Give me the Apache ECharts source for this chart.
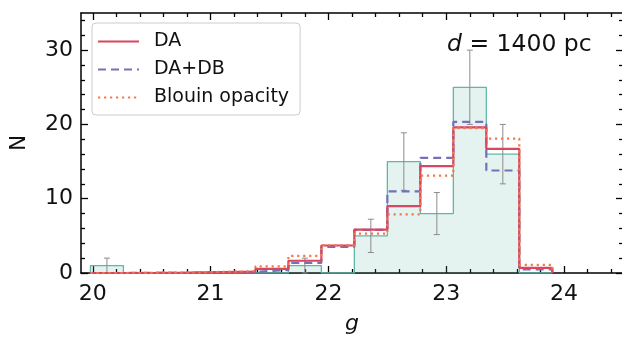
<!DOCTYPE html>
<html>
<head>
<meta charset="utf-8">
<script src="https://cdn.jsdelivr.net/npm/echarts@6/dist/echarts.min.js"></script>
<style>
html,body{margin:0;padding:0;background:#fff;}
#c{width:622px;height:338px;}
</style>
</head>
<body>
<div id="c"></div>
<script>
// Histogram bin edges (g magnitude)
var binEdges = [19.98, 20.26, 20.54, 20.82, 21.10, 21.38, 21.66, 21.94, 22.22, 22.50, 22.78, 23.06, 23.34, 23.62, 23.90];
// Observed counts per bin
var observed = [1, 0, 0, 0, 0, 0, 1, 0, 5, 15, 8, 25, 16, 0];
// Observed Poisson errors per bin
var observedErr = [1, 0, 0, 0, 0, 0, 1, 0, 2.24, 3.87, 2.83, 5, 4, 0];
// Model histograms
var modelDA = [0, 0.02, 0.05, 0.12, 0.2, 0.55, 1.65, 3.7, 5.85, 9.0, 14.4, 19.6, 16.7, 0.7];
var modelDADB = [0, 0.02, 0.04, 0.1, 0.15, 0.4, 1.35, 3.5, 5.8, 11.0, 15.5, 20.35, 13.8, 0.5];
var modelBlouin = [0, 0.03, 0.07, 0.15, 0.25, 0.9, 2.3, 3.75, 5.3, 7.9, 13.1, 19.5, 18.1, 1.1];
// Axis ticks
var xMajorTicks = [20, 21, 22, 23, 24];
var xMinorTicks = [20.2, 20.4, 20.6, 20.8, 21.2, 21.4, 21.6, 21.8, 22.2, 22.4, 22.6, 22.8, 23.2, 23.4, 23.6, 23.8, 24.2, 24.4];
var yMajorTicks = [0, 10, 20, 30];
var yMinorTicks = [2, 4, 6, 8, 12, 14, 16, 18, 22, 24, 26, 28, 32, 34];
var seriesNames = ['DA', 'DA+DB', 'Blouin opacity'];

function stepData(edges, vals) {
  var pts = [[edges[0], 0]];
  for (var i = 0; i < vals.length; i++) pts.push([edges[i], vals[i]]);
  pts.push([edges[vals.length], vals[vals.length - 1]]);
  pts.push([edges[vals.length], 0]);
  return pts;
}
var errData = [];
for (var i = 0; i < observed.length; i++) {
  if (observed[i] > 0) {
    var c = (binEdges[i] + binEdges[i + 1]) / 2;
    errData.push([c, observed[i] - observedErr[i], observed[i] + observedErr[i]]);
  }
}

var FONT = 'DejaVu Sans';
var X0 = 19.9, X1 = 24.5, Y0 = 0, Y1 = 35;
function xAx(pos, ticks, len, showLine, labels) {
  return {
    type: 'value', min: X0, max: X1, position: pos,
    axisLine: {show: showLine, onZero: false, lineStyle: {color: '#000', width: 1.5}},
    axisTick: {show: true, inside: true, length: len, customValues: ticks, lineStyle: {color: '#000', width: 1.3}},
    axisLabel: labels ? {show: true, customValues: ticks, fontFamily: FONT, fontSize: 22, color: '#111', margin: 10} : {show: false},
    splitLine: {show: false}
  };
}
function yAx(pos, ticks, len, showLine, labels) {
  return {
    type: 'value', min: Y0, max: Y1, position: pos,
    axisLine: {show: showLine, onZero: false, lineStyle: {color: '#000', width: 1.5}},
    axisTick: {show: true, inside: true, length: len, customValues: ticks, lineStyle: {color: '#000', width: 1.3}},
    axisLabel: labels ? {show: true, customValues: ticks, fontFamily: FONT, fontSize: 22, color: '#111', margin: 8} : {show: false},
    splitLine: {show: false}
  };
}

var xAxes = [xAx('bottom', xMajorTicks, 7, true, true), xAx('bottom', xMinorTicks, 4, false, false),
             xAx('top', xMajorTicks, 7, true, false), xAx('top', xMinorTicks, 4, false, false)];
xAxes[0].name = 'g';
xAxes[0].nameLocation = 'middle';
xAxes[0].nameGap = 40;
xAxes[0].nameTextStyle = {fontFamily: FONT, fontSize: 22, fontStyle: 'italic', color: '#111'};
var yAxes = [yAx('left', yMajorTicks, 7, true, true), yAx('left', yMinorTicks, 4, false, false),
             yAx('right', yMajorTicks, 7, true, false), yAx('right', yMinorTicks, 4, false, false)];
yAxes[0].name = 'N';
yAxes[0].nameLocation = 'middle';
yAxes[0].nameGap = 51;
yAxes[0].nameTextStyle = {fontFamily: FONT, fontSize: 21, color: '#111'};

var chart = echarts.init(document.getElementById('c'), null, {renderer: 'canvas'});
chart.setOption({
  animation: false,
  backgroundColor: '#fff',
  grid: {left: 81, top: 13, width: 542, height: 260, containLabel: false, outerBoundsMode: 'none'},
  title: {
    text: '{i|d} = 1400 pc', left: 442, top: 28,
    textStyle: {fontFamily: FONT, fontSize: 23.5, fontWeight: 'normal', color: '#111',
      rich: {i: {fontFamily: FONT, fontSize: 23.5, fontStyle: 'italic', color: '#111'}}}
  },
  legend: {
    data: seriesNames, orient: 'vertical', left: 92, top: 23,
    itemWidth: 41, itemHeight: 12, itemGap: 7,
    padding: [8, 11, 7, 5],
    itemStyle: {opacity: 0},
    backgroundColor: 'rgba(255,255,255,0.85)', borderColor: '#cccccc', borderWidth: 1, borderRadius: 4,
    textStyle: {fontFamily: FONT, fontSize: 19, color: '#111', padding: [0, 0, 0, 10], lineHeight: 21}
  },
  xAxis: xAxes,
  yAxis: yAxes,
  series: [
    {
      name: 'observed', type: 'line', step: 'end', data: stepData(binEdges, observed),
      symbol: 'none', z: 1,
      lineStyle: {color: '#5db8a9', width: 1.3},
      areaStyle: {color: 'rgba(93,184,169,0.24)', origin: 0}
    },
    {
      name: 'err', type: 'custom', data: errData, z: 3,
      renderItem: function (params, api) {
        var x = api.value(0);
        var lo = api.coord([x, api.value(1)]);
        var hi = api.coord([x, api.value(2)]);
        var cw = 3;
        var st = {stroke: '#8c8c8c', lineWidth: 1};
        return {type: 'group', children: [
          {type: 'line', shape: {x1: lo[0], y1: lo[1], x2: hi[0], y2: hi[1]}, style: st},
          {type: 'line', shape: {x1: lo[0] - cw, y1: lo[1], x2: lo[0] + cw, y2: lo[1]}, style: st},
          {type: 'line', shape: {x1: hi[0] - cw, y1: hi[1], x2: hi[0] + cw, y2: hi[1]}, style: st}
        ]};
      }
    },
    {
      name: 'DA+DB', type: 'line', step: 'end', data: stepData(binEdges, modelDADB), symbol: 'none', z: 4,
      itemStyle: {color: '#7670b8'},
      lineStyle: {color: '#7670b8', width: 2.2, type: [8, 5]}
    },
    {
      name: 'Blouin opacity', type: 'line', step: 'end', data: stepData(binEdges, modelBlouin), symbol: 'none', z: 5,
      itemStyle: {color: '#f27a4c'},
      lineStyle: {color: '#f27a4c', width: 2.2, type: [2.2, 3.8]}
    },
    {
      name: 'DA', type: 'line', step: 'end', data: stepData(binEdges, modelDA), symbol: 'none', z: 4,
      itemStyle: {color: '#d8465f'},
      lineStyle: {color: '#d8465f', width: 2.2}
    }
  ]
});
</script>
</body>
</html>
